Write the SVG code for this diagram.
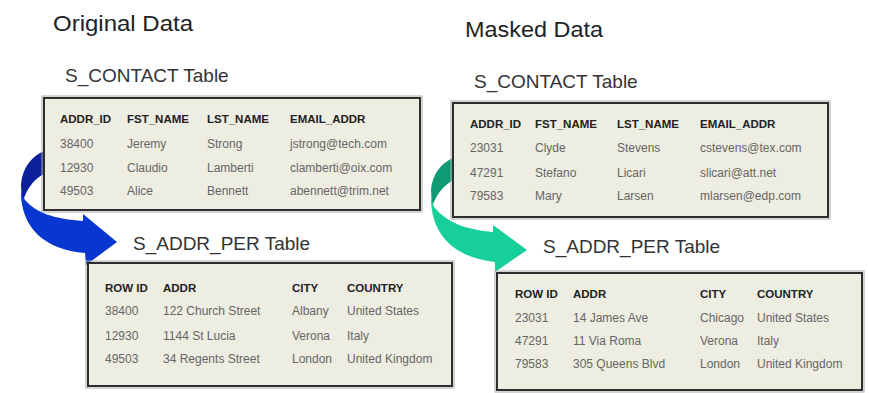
<svg xmlns="http://www.w3.org/2000/svg" width="869" height="393" viewBox="0 0 869 393">
<style>
.title{font-family:"Liberation Sans",Arial,sans-serif;font-size:22px;fill:#222}
.sub{font-family:"Liberation Sans",Arial,sans-serif;font-size:19px;fill:#333}
.hd{font-family:"Liberation Sans",Arial,sans-serif;font-size:11.5px;font-weight:bold;fill:#222}
.dt{font-family:"Liberation Sans",Arial,sans-serif;font-size:12px;fill:#666}
.box{fill:#edede1;stroke:#2e2e2e;stroke-width:2}
.shadow{fill:none;stroke:#aaa;stroke-width:1}
.bdark{fill:#0b209a}
.bfront{fill:#0836d0}
.gdark{fill:#0e9a72}
.gfront{fill:#17cf9a}
</style>
<rect width="869" height="393" fill="#fff"/>
<text class="title" x="53" y="31" textLength="140" lengthAdjust="spacingAndGlyphs">Original Data</text>
<text class="title" x="465" y="37" textLength="138" lengthAdjust="spacingAndGlyphs">Masked Data</text>
<g id="connectors">
  <path class="bdark" d="M44,151 C32,156 22,168 21,185 L22,205 C25,192 32,180 44,174 Z"/>
  <path class="bfront" d="M21,192 C21,228 45,250 85,253 L86,265 L117,242 L83,214 L83,221 C55,219 36,213 25,200 Z"/>
  <path class="gdark" d="M453,158 C441,163 432,175 431,190 L432,208 C435,196 443,186 453,180 Z"/>
  <path class="gfront" d="M431,198 C431,235 455,258 495,262 L495,272 L527,250 L493,225 L493,232 C466,230 446,222 434,207 Z"/>
</g>
<g id="orig-contact">
  <text class="sub" x="65" y="82">S_CONTACT Table</text>
  <rect class="shadow" x="42" y="96" width="380" height="116"/>
  <rect class="box" x="44" y="98" width="376" height="112"/>
  <text class="hd" x="60" y="123">ADDR_ID</text><text class="hd" x="127" y="123">FST_NAME</text><text class="hd" x="207" y="123">LST_NAME</text><text class="hd" x="290" y="123">EMAIL_ADDR</text>
  <text class="dt" x="60" y="148">38400</text><text class="dt" x="127" y="148">Jeremy</text><text class="dt" x="207" y="148">Strong</text><text class="dt" x="290" y="148">jstrong@tech.com</text>
  <text class="dt" x="60" y="172">12930</text><text class="dt" x="127" y="172">Claudio</text><text class="dt" x="207" y="172">Lamberti</text><text class="dt" x="290" y="172">clamberti@oix.com</text>
  <text class="dt" x="60" y="195">49503</text><text class="dt" x="127" y="195">Alice</text><text class="dt" x="207" y="195">Bennett</text><text class="dt" x="290" y="195">abennett@trim.net</text>
</g>
<g id="orig-addr">
  <text class="sub" x="133" y="250">S_ADDR_PER Table</text>
  <rect class="shadow" x="86" y="261" width="368" height="127"/>
  <rect class="box" x="88" y="263" width="364" height="123"/>
  <text class="hd" x="105" y="292">ROW ID</text><text class="hd" x="163" y="292">ADDR</text><text class="hd" x="292" y="292">CITY</text><text class="hd" x="347" y="292">COUNTRY</text>
  <text class="dt" x="105" y="315">38400</text><text class="dt" x="163" y="315">122 Church Street</text><text class="dt" x="292" y="315">Albany</text><text class="dt" x="347" y="315">United States</text>
  <text class="dt" x="105" y="340">12930</text><text class="dt" x="163" y="340">1144 St Lucia</text><text class="dt" x="292" y="340">Verona</text><text class="dt" x="347" y="340">Italy</text>
  <text class="dt" x="105" y="363">49503</text><text class="dt" x="163" y="363">34 Regents Street</text><text class="dt" x="292" y="363">London</text><text class="dt" x="347" y="363">United Kingdom</text>
</g>
<g id="masked-contact">
  <text class="sub" x="474" y="88">S_CONTACT Table</text>
  <rect class="shadow" x="451" y="101" width="379" height="118"/>
  <rect class="box" x="453" y="103" width="375" height="114"/>
  <text class="hd" x="470" y="128">ADDR_ID</text><text class="hd" x="535" y="128">FST_NAME</text><text class="hd" x="617" y="128">LST_NAME</text><text class="hd" x="700" y="128">EMAIL_ADDR</text>
  <text class="dt" x="470" y="152">23031</text><text class="dt" x="535" y="152">Clyde</text><text class="dt" x="617" y="152">Stevens</text><text class="dt" x="700" y="152">cstevens@tex.com</text>
  <text class="dt" x="470" y="177">47291</text><text class="dt" x="535" y="177">Stefano</text><text class="dt" x="617" y="177">Licari</text><text class="dt" x="700" y="177">slicari@att.net</text>
  <text class="dt" x="470" y="200">79583</text><text class="dt" x="535" y="200">Mary</text><text class="dt" x="617" y="200">Larsen</text><text class="dt" x="700" y="200">mlarsen@edp.com</text>
</g>
<g id="masked-addr">
  <text class="sub" x="543" y="253">S_ADDR_PER Table</text>
  <rect class="shadow" x="495" y="271" width="369" height="121"/>
  <rect class="box" x="497" y="273" width="365" height="117"/>
  <text class="hd" x="515" y="298">ROW ID</text><text class="hd" x="573" y="298">ADDR</text><text class="hd" x="700" y="298">CITY</text><text class="hd" x="757" y="298">COUNTRY</text>
  <text class="dt" x="515" y="322">23031</text><text class="dt" x="573" y="322">14 James Ave</text><text class="dt" x="700" y="322">Chicago</text><text class="dt" x="757" y="322">United States</text>
  <text class="dt" x="515" y="345">47291</text><text class="dt" x="573" y="345">11 Via Roma</text><text class="dt" x="700" y="345">Verona</text><text class="dt" x="757" y="345">Italy</text>
  <text class="dt" x="515" y="368">79583</text><text class="dt" x="573" y="368">305 Queens Blvd</text><text class="dt" x="700" y="368">London</text><text class="dt" x="757" y="368">United Kingdom</text>
</g>
</svg>
